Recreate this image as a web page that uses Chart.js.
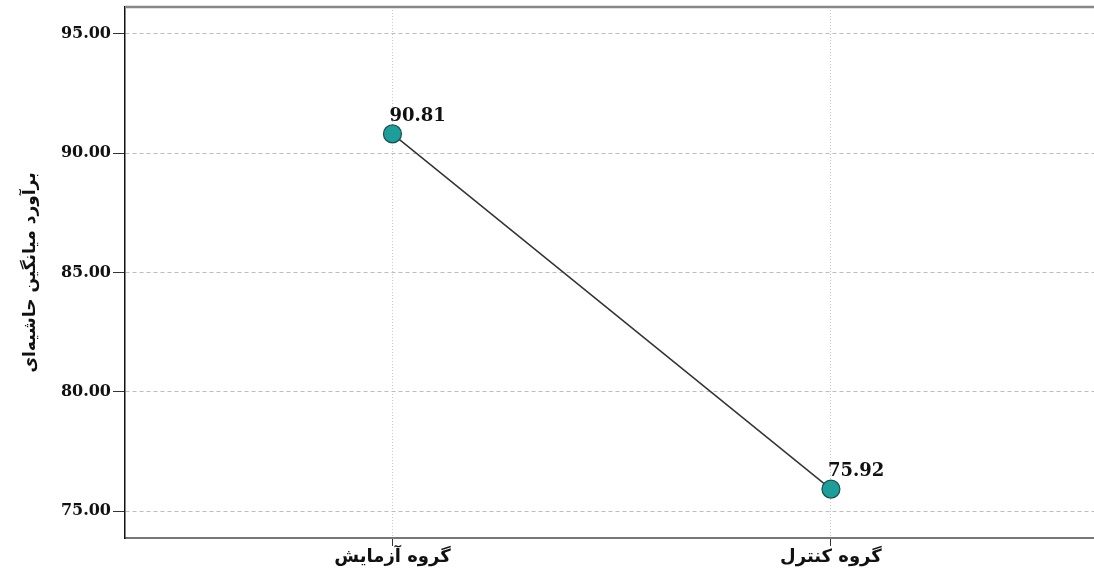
<!DOCTYPE html>
<html>
<head>
<meta charset="utf-8">
<script src="https://cdn.jsdelivr.net/npm/chart.js@4/dist/chart.umd.min.js"></script>
<style>
	html, body { margin: 0; padding: 0; background: #fff; overflow: hidden; }
	#wrap { width: 1094px; height: 574px; overflow: hidden; }
	canvas { display: block; }
</style>
</head>
<body>
<div id="wrap"><canvas id="grafico"></canvas></div>
<script>
// datos del gráfico
const categorias = ['گروه آزمایش', 'گروه کنترل'];
const valores = [90.81, 75.92];
const ticksY = [75, 80, 85, 90, 95];
const tituloY = 'برآورد میانگین حاشیه‌ای';

// etiquetas de valor junto a cada punto
const etiquetasPlugin = {
	id: 'etiquetas',
	afterDatasetsDraw(chart) {
		const ctx = chart.ctx;
		const meta = chart.getDatasetMeta(0);
		ctx.save();
		ctx.font = 'bold 18px "DejaVu Serif"';
		ctx.fillStyle = '#111';
		ctx.textAlign = 'left';
		ctx.textBaseline = 'alphabetic';
		meta.data.forEach((p, i) => {
			ctx.fillText(valores[i].toFixed(2), p.x - 3, p.y - 13);
		});
		ctx.restore();
	}
};

// borde superior del marco
const marcoPlugin = {
	id: 'marco',
	beforeDatasetsDraw(chart) {
		const a = chart.chartArea;
		const ctx = chart.ctx;
		ctx.save();
		ctx.strokeStyle = '#888';
		ctx.lineWidth = 2.5;
		ctx.beginPath();
		ctx.moveTo(a.left, a.top);
		ctx.lineTo(a.right, a.top);
		ctx.stroke();
		ctx.restore();
	}
};

new Chart(document.getElementById('grafico'), {
	type: 'line',
	data: {
		datasets: [{
			data: valores.map((v, i) => ({ x: i + 1, y: v })),
			borderColor: '#333',
			borderWidth: 1.5,
			pointRadius: 9,
			pointHoverRadius: 9,
			pointBackgroundColor: '#1c9e9b',
			pointBorderColor: '#1d4f50',
			pointBorderWidth: 1.2,
			tension: 0
		}]
	},
	options: {
		responsive: true,
		maintainAspectRatio: false,
		animation: false,
		layout: { autoPadding: false, padding: { top: 7, right: 0, left: 0, bottom: 0 } },
		plugins: { legend: { display: false }, tooltip: { enabled: false } },
		scales: {
			x: {
				type: 'linear',
				min: 0.39,
				max: 2.6,
				afterBuildTicks: s => { s.ticks = categorias.map((c, i) => ({ value: i + 1 })); },
				afterFit: s => { s.height = 36; s.paddingLeft = 0; s.paddingRight = 0; },
				ticks: {
					callback: v => categorias[v - 1] || '',
					color: '#111',
					font: { family: '"DejaVu Sans"', size: 18, weight: 'bold' },
					padding: 1,
					maxRotation: 0
				},
				grid: { color: '#c8c8c8', lineWidth: 1, tickLength: 8, tickColor: '#333', tickWidth: 1 },
				border: { color: '#777', width: 2, dash: [1, 2] }
			},
			y: {
				min: 73.87,
				max: 96.13,
				afterBuildTicks: s => { s.ticks = ticksY.map(v => ({ value: v })); },
				afterFit: s => { s.width = 125; s.paddingTop = 0; s.paddingBottom = 0; },
				ticks: {
					callback: v => v.toFixed(2),
					color: '#111',
					font: { family: '"DejaVu Serif"', size: 16, weight: 'bold' },
					padding: 2
				},
				grid: { color: '#bdbdbd', lineWidth: 1, tickLength: 12, tickColor: '#333', tickWidth: 1 },
				border: { color: '#111', width: 1.5, dash: [4, 3] },
				title: {
					display: true,
					text: tituloY,
					color: '#111',
					font: { family: '"DejaVu Sans"', size: 17, weight: 'bold' },
					padding: { top: 20, bottom: 10 }
				}
			}
		}
	},
	plugins: [etiquetasPlugin, marcoPlugin]
});
</script>
</body>
</html>
